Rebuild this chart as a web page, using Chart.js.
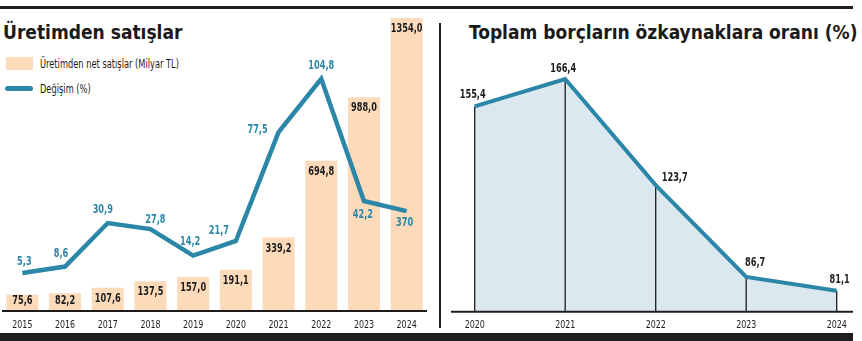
<!DOCTYPE html>
<html lang="tr">
<head>
<meta charset="utf-8">
<script src="https://cdn.jsdelivr.net/npm/chart.js@4/dist/chart.umd.min.js"></script>
<style>
  html, body { margin: 0; padding: 0; background: #fff; }
  body {
    width: 862px; height: 341px; position: relative; overflow: hidden;
    font-family: "Liberation Sans Narrow", "DejaVu Sans Condensed", sans-serif;
    color: #1c1c1c;
  }
  .rule-top    { position: absolute; left: 0; top: 6px;   width: 853px; height: 3px; background: #1e1e1e; }
  .rule-bottom { position: absolute; left: 0; top: 333px; width: 853px; height: 8px; background: #1e1e1e; }
  .sep         { position: absolute; left: 439px; top: 23px; width: 2px; height: 305px; background: #1e1e1e; }
  .title {
    position: absolute; top: 21px; line-height: 1; white-space: nowrap;
    font: bold 19px "DejaVu Sans Condensed", sans-serif; color: #1a1a1a;
  }
  .leg {
    position: absolute; left: 40px; height: 14px; line-height: 14px; font-size: 11.5px; white-space: nowrap;
    transform: scaleX(0.8); transform-origin: left center;
  }
  .sw-bar  { position: absolute; left: 6px; top: 57px; width: 27px; height: 13px; background: #fddaba; }
  .sw-line { position: absolute; left: 5px; top: 86px; width: 28px; height: 5px; border-radius: 3px; background: #2b86a7; }
  canvas { position: absolute; top: 0; }
</style>
</head>
<body>
<div class="rule-top"></div>
<div class="rule-bottom"></div>
<div class="sep"></div>

<div class="title" style="left:3px">Üretimden satışlar</div>
<div class="sw-bar"></div>
<div class="leg" style="top:57px">Üretimden net satışlar (Milyar TL)</div>
<div class="sw-line"></div>
<div class="leg" style="top:82px">Değişim (%)</div>

<div class="title" style="left:469px">Toplam borçların özkaynaklara oranı (%)</div>

<canvas id="satis" width="436" height="341" style="left:0"></canvas>
<canvas id="borc" width="418" height="341" style="left:444px"></canvas>

<script>
// --- veriler ---
const yillar = ['2015', '2016', '2017', '2018', '2019', '2020', '2021', '2022', '2023', '2024'];
const netSatis = [75.6, 82.2, 107.6, 137.5, 157.0, 191.1, 339.2, 694.8, 988.0, 1354.0];
const degisim = [5.3, 8.6, 30.9, 27.8, 14.2, 21.7, 77.5, 104.8, 42.2, 37.0];
// basılı etiketler (2024 kaynakta "370" olarak yazılı)
const degisimYazi = ['5,3', '8,6', '30,9', '27,8', '14,2', '21,7', '77,5', '104,8', '42,2', '370'];

const borcYillar = ['2020', '2021', '2022', '2023', '2024'];
const borcOran = [155.4, 166.4, 123.7, 86.7, 81.1];

// etiketlerin noktaya göre kayması (px)
const degisimYaziKonum = [[2, -11], [-4, -13], [-5, -13], [5, -9], [-3, -14], [-17, -10], [-21, -2], [0, -13], [-1, 14], [-2, 12]];
const borcYaziKonum = [[-2, -12], [-2, -10], [19, -7], [9, -14], [3, -11]];

const MAVI = '#2b86a7';
const SEFTALI = '#fddaba';
const ACIK_MAVI = '#dbe8f0';
const SIYAH = '#1c1c1c';
const DAR = '"Liberation Sans Narrow", "DejaVu Sans Condensed", sans-serif';

const virgul = v => v.toFixed(1).replace('.', ',');

// dar yazı: yatayda sıkıştırılmış metin
function darYaz(ctx, text, x, y, sx) {
  ctx.save();
  ctx.translate(x, y);
  ctx.scale(sx, 1);
  ctx.fillText(text, 0, 0);
  ctx.restore();
}

// --- sol grafik: çubuk + çizgi ---
const solEtiketler = {
  id: 'solEtiketler',
  afterDatasetsDraw(chart) {
    const { ctx, chartArea, scales } = chart;
    ctx.save();
    // x ekseni çizgisi
    ctx.strokeStyle = SIYAH;
    ctx.lineWidth = 2;
    ctx.beginPath();
    ctx.moveTo(2, chartArea.bottom);
    ctx.lineTo(427, chartArea.bottom);
    ctx.stroke();

    ctx.textAlign = 'center';
    ctx.textBaseline = 'middle';

    // çubuk değerleri
    const bars = chart.getDatasetMeta(1).data;
    ctx.font = 'bold 12px ' + DAR;
    ctx.fillStyle = SIYAH;
    bars.forEach((el, i) => {
      darYaz(ctx, virgul(netSatis[i]), el.x, Math.min(el.y + 11, 301), 0.76);
    });

    // değişim etiketleri
    const pts = chart.getDatasetMeta(0).data;
    ctx.fillStyle = MAVI;
    pts.forEach((el, i) => {
      const [dx, dy] = degisimYaziKonum[i];
      darYaz(ctx, degisimYazi[i], el.x + dx, el.y + dy, 0.76);
    });

    // yıllar
    ctx.font = '11px ' + DAR;
    ctx.fillStyle = SIYAH;
    yillar.forEach((y, i) => {
      darYaz(ctx, y, scales.x.getPixelForValue(i), 325, 0.8);
    });
    ctx.restore();
  }
};

new Chart(document.getElementById('satis'), {
  type: 'bar',
  data: {
    labels: yillar,
    datasets: [
      {
        type: 'line',
        label: 'Değişim (%)',
        data: degisim,
        yAxisID: 'y1',
        borderColor: MAVI,
        borderWidth: 4.5,
        borderJoinStyle: 'miter',
        pointRadius: 0,
        tension: 0,
        order: 0
      },
      {
        label: 'Üretimden net satışlar (Milyar TL)',
        data: netSatis,
        backgroundColor: SEFTALI,
        barPercentage: 0.75,
        categoryPercentage: 1,
        order: 1
      }
    ]
  },
  options: {
    responsive: false,
    animation: false,
    layout: { padding: { left: 1, right: 8, top: 18, bottom: 30 } },
    plugins: { legend: { display: false }, tooltip: { enabled: false } },
    scales: {
      x: { display: false, offset: true },
      y: { display: false, min: 0, max: 1354 },
      y1: { display: false, min: -14.2, max: 136 }
    }
  },
  plugins: [solEtiketler]
});

// --- sağ grafik: alan ---
const sagCizgiler = {
  id: 'sagCizgiler',
  // dolgudan sonra, çizgiden önce dikey çizgiler
  beforeDatasetsDraw(chart) {
    const { ctx, chartArea } = chart;
    const pts = chart.getDatasetMeta(0).data;
    ctx.save();
    ctx.strokeStyle = SIYAH;
    ctx.lineWidth = 1.3;
    pts.forEach(el => {
      ctx.beginPath();
      ctx.moveTo(el.x, el.y);
      ctx.lineTo(el.x, chartArea.bottom);
      ctx.stroke();
    });
    ctx.restore();
  },
  afterDatasetsDraw(chart) {
    const { ctx, chartArea, scales } = chart;
    const pts = chart.getDatasetMeta(0).data;
    ctx.save();
    ctx.strokeStyle = SIYAH;
    ctx.lineWidth = 2;
    ctx.beginPath();
    ctx.moveTo(7, chartArea.bottom);
    ctx.lineTo(409, chartArea.bottom);
    ctx.stroke();

    ctx.textAlign = 'center';
    ctx.textBaseline = 'middle';
    ctx.font = 'bold 12px ' + DAR;
    ctx.fillStyle = SIYAH;
    pts.forEach((el, i) => {
      const [dx, dy] = borcYaziKonum[i];
      darYaz(ctx, virgul(borcOran[i]), el.x + dx, el.y + dy, 0.76);
    });

    ctx.font = '11px ' + DAR;
    borcYillar.forEach((y, i) => {
      darYaz(ctx, y, scales.x.getPixelForValue(i), 325, 0.8);
    });
    ctx.restore();
  }
};

new Chart(document.getElementById('borc'), {
  type: 'line',
  data: {
    labels: borcYillar,
    datasets: [{
      label: 'Toplam borçların özkaynaklara oranı (%)',
      data: borcOran,
      borderColor: MAVI,
      borderWidth: 4,
      backgroundColor: ACIK_MAVI,
      fill: 'start',
      pointRadius: 0,
      tension: 0
    }]
  },
  options: {
    responsive: false,
    animation: false,
    layout: { padding: { left: 30.7, right: 25.3, top: 18, bottom: 29.3 } },
    plugins: {
      legend: { display: false },
      tooltip: { enabled: false },
      filler: { drawTime: 'beforeDatasetsDraw' }
    },
    scales: {
      x: { display: false },
      y: { display: false, min: 72.7, max: 191 }
    }
  },
  plugins: [sagCizgiler]
});
</script>
</body>
</html>
